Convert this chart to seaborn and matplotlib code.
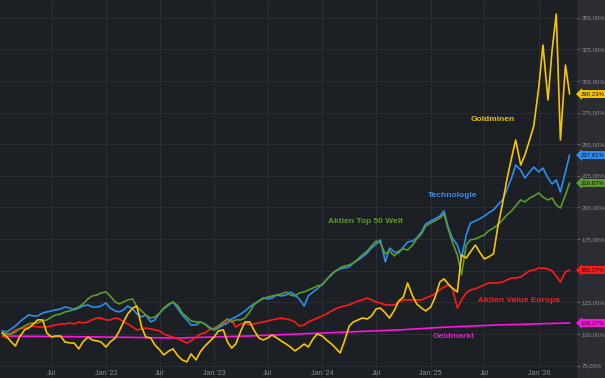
import pandas as pd
import seaborn as sns
import matplotlib.pyplot as plt

start = '2021-01-15'

goldminen = [
    100.8, 97.6, 93.7, 90.5, 97.6, 103.2, 104.7, 107.9, 111.1, 111.1,
    100.8, 97.6, 98.4, 98.4, 93.7, 92.9, 92.9, 88.2, 93.7, 97.6,
    95.3, 94.5, 93.7, 89.7, 93.7, 96.8, 102.4, 109.5, 115.8, 120.5,
    122.1, 105.5, 97.6, 96.8, 91.3, 87.4, 83.4, 86.6, 88.2, 82.6,
    79.5, 77.9, 84.2, 79.5, 85.8, 90.5, 93.7, 97.6, 102.4, 103.2,
    93.7, 88.9, 92.1, 102.4, 109.5, 109.5, 103.2, 96.8, 95.3, 96.8,
    99.2, 96.8, 94.5, 92.1, 89.7, 86.6, 88.9, 92.1, 89.7, 96.1,
    100.0, 98.4, 95.3, 92.1, 88.9, 85.0, 93.7, 106.3, 109.5, 111.1,
    112.6, 111.9, 114.2, 119.8, 120.5, 116.6, 112.6, 119.0, 126.1, 129.2,
    140.3, 130.0, 123.7, 120.5, 118.2, 121.3, 128.4, 141.1, 143.5, 139.5,
    136.3, 133.2, 162.4, 160.0, 164.8, 170.3, 164.8, 159.3, 160.8, 163.2,
    183.7, 203.5, 221.7, 239.0, 253.3, 233.5, 241.4, 253.3, 264.3, 295.1,
    328.3, 284.9, 324.4, 352.8, 253.3, 312.5, 289.6]

technologie = [
    102.4, 101.6, 104.0, 106.3, 109.5, 112.6, 115.0, 114.2, 114.2, 116.6,
    117.4, 118.2, 119.0, 119.8, 121.3, 120.5, 119.0, 120.5, 122.1, 122.9,
    121.3, 121.3, 122.1, 124.5, 120.5, 118.2, 117.4, 119.0, 122.1, 119.8,
    115.8, 113.4, 115.0, 109.5, 111.1, 116.6, 119.8, 122.9, 125.3, 119.8,
    115.0, 111.1, 107.1, 107.1, 109.5, 107.9, 105.5, 103.2, 104.7, 107.1,
    108.7, 111.9, 113.4, 115.8, 118.2, 121.3, 123.7, 126.1, 128.4, 127.7,
    128.4, 130.8, 130.0, 130.8, 133.2, 130.8, 127.7, 122.1, 130.0, 133.2,
    135.6, 139.5, 142.7, 146.6, 149.8, 151.4, 152.1, 152.9, 156.1, 158.5,
    160.8, 164.0, 167.9, 171.1, 174.3, 156.9, 167.9, 164.8, 164.0, 168.7,
    172.7, 173.5, 175.8, 180.6, 186.9, 189.3, 190.9, 193.2, 197.2, 184.5,
    175.8, 170.3, 160.0, 178.2, 187.7, 189.3, 190.9, 193.2, 195.6, 198.0,
    201.9, 205.9, 213.8, 223.2, 233.5, 229.6, 223.2, 228.0, 231.9, 228.0,
    231.1, 223.2, 218.5, 221.7, 212.2, 228.0, 241.4]

top50_welt = [
    100.8, 100.0, 100.0, 101.6, 104.0, 106.3, 107.9, 108.7, 108.7, 110.3,
    111.1, 113.4, 115.0, 115.8, 117.4, 118.2, 119.8, 121.3, 123.7, 127.7,
    130.0, 130.8, 132.4, 133.2, 130.0, 125.3, 123.7, 125.3, 126.9, 127.7,
    121.3, 118.2, 115.0, 112.6, 113.4, 116.6, 120.5, 123.7, 125.3, 122.1,
    116.6, 113.4, 110.3, 109.5, 109.5, 107.9, 104.7, 103.2, 106.3, 109.5,
    111.9, 109.5, 111.1, 111.1, 112.6, 117.4, 122.9, 126.1, 127.7, 129.2,
    130.0, 130.8, 131.6, 133.2, 130.8, 130.0, 132.4, 133.2, 134.8, 136.3,
    137.9, 138.7, 142.7, 147.4, 149.8, 152.1, 153.7, 154.5, 156.1, 159.3,
    162.4, 165.6, 169.5, 173.5, 171.9, 163.2, 165.6, 161.6, 165.6, 167.2,
    166.4, 170.3, 175.1, 179.0, 185.3, 187.7, 189.3, 191.6, 194.8, 183.0,
    172.7, 162.4, 146.6, 170.3, 174.3, 175.1, 176.6, 178.2, 181.4, 183.7,
    186.1, 190.1, 194.0, 197.2, 201.1, 205.9, 204.3, 207.4, 209.0, 211.4,
    208.2, 205.9, 207.4, 201.9, 199.5, 209.8, 219.3]

value_europa = [
    98.4, 96.8, 100.8, 103.2, 104.0, 104.7, 105.5, 106.3, 105.5, 105.5,
    105.5, 106.3, 107.1, 107.9, 107.9, 108.7, 107.9, 109.5, 108.7, 109.5,
    111.1, 112.6, 112.6, 111.1, 111.1, 112.6, 111.9, 109.5, 107.9, 105.5,
    103.2, 104.0, 104.7, 104.0, 103.2, 102.4, 100.0, 98.4, 97.6, 96.1,
    94.5, 92.9, 94.5, 97.6, 100.0, 100.8, 103.2, 104.7, 106.3, 107.9,
    111.1, 111.1, 105.5, 107.9, 108.7, 107.1, 107.9, 108.7, 109.5, 110.3,
    111.1, 111.9, 112.6, 111.9, 111.1, 109.5, 106.3, 107.1, 109.5, 111.1,
    112.6, 114.2, 115.8, 118.2, 119.8, 121.3, 122.1, 122.9, 124.5, 126.1,
    126.9, 128.4, 126.9, 125.3, 124.5, 122.9, 122.9, 122.9, 125.3, 126.9,
    126.9, 126.9, 126.9, 126.9, 128.4, 130.0, 131.6, 134.8, 137.1, 138.7,
    136.3, 120.5, 126.9, 132.4, 134.8, 135.6, 137.1, 138.7, 140.3, 140.3,
    140.3, 141.1, 142.7, 144.2, 144.2, 145.0, 147.4, 149.8, 150.6, 152.1,
    152.1, 151.4, 149.8, 145.8, 141.1, 149.0, 150.6]

geld_daten = ['2021-01-15', '2021-12-15', '2022-09-01', '2023-05-01', '2023-10-15',
              '2024-04-01', '2024-09-15', '2025-03-01', '2025-08-15', '2026-04-15']
geldmarkt = [98.4, 97.6, 96.8, 98.4, 100.0, 101.6, 103.2, 105.5, 107.1, 108.7]

serien = ['Geldmarkt', 'Aktien Value Europa', 'Technologie', 'Aktien Top 50 Welt', 'Goldminen']
farben = ['#ff14e0', '#ff1a1a', '#2b8ff0', '#5c9a2c', '#f7c600']
text_farben = ['#e21ccf', '#ee2222', '#3a90e8', '#5c9a2c', '#eabd08']
end_labels = ['109,27%', '160,27%', '237,81%', '216,87%', '290,23%']

y_ticks = [75, 100, 125, 150, 175, 200, 225, 250, 275, 300, 325, 350]
x_ticks = ['2021-07-01', '2022-01-01', '2022-07-01', '2023-01-01', '2023-07-01',
           '2024-01-01', '2024-07-01', '2025-01-01', '2025-07-01', '2026-01-01']
x_labels = ['Jul', "Jan '22", 'Jul', "Jan '23", 'Jul', "Jan '24", 'Jul', "Jan '25", 'Jul', "Jan '26"]

# Long-Format fuer seaborn
datum = pd.date_range(start, periods=len(goldminen), freq='SMS')
teile = []
for name, werte in [('Goldminen', goldminen), ('Technologie', technologie),
                    ('Aktien Top 50 Welt', top50_welt), ('Aktien Value Europa', value_europa)]:
    teile.append(pd.DataFrame({'Datum': datum, 'Wert': werte, 'Serie': name}))
teile.append(pd.DataFrame({'Datum': pd.to_datetime(geld_daten), 'Wert': geldmarkt, 'Serie': 'Geldmarkt'}))
df = pd.concat(teile, ignore_index=True)

sns.set_theme(style='dark')
plt.rcParams['font.family'] = ['Liberation Sans', 'DejaVu Sans']

fig = plt.figure(figsize=(6.05, 3.78), dpi=100, facecolor='#2b2d32')
ax = fig.add_axes([0, 0, 577 / 605, 1])
ax.set_facecolor('#1c1f24')

sns.lineplot(data=df, x='Datum', y='Wert', hue='Serie', hue_order=serien,
             palette=dict(zip(serien, farben)), linewidth=1.2, legend=False, ax=ax)

ax.set_xlim(pd.Timestamp('2021-01-08'), pd.Timestamp('2026-05-10'))
ax.set_ylim(65.2, 363.9)
ax.set_xlabel('')
ax.set_ylabel('')
for s in ax.spines.values():
    s.set_visible(False)

ax.set_xticks(pd.to_datetime(x_ticks))
ax.set_xticklabels(x_labels)
ax.tick_params(axis='x', direction='in', pad=-6, length=0, labelsize=5, labelcolor='#8b8e94')

ax.yaxis.tick_right()
ax.set_yticks(y_ticks)
ax.set_yticklabels([f'{v},00%' for v in y_ticks])
ax.tick_params(axis='y', right=True, length=2, width=0.6, color='#6c6f75', pad=1.5,
               labelsize=4.3, labelcolor='#8b8e94')
ax.grid(True, color='#2a2d33', linewidth=0.8)

# Serienbeschriftung im Chart
ax.text(0.854, 0.683, 'Goldminen', color=text_farben[4], transform=ax.transAxes,
        fontsize=6, fontweight='bold', ha='center', va='center')
ax.text(0.785, 0.484, 'Technologie', color=text_farben[2], transform=ax.transAxes,
        fontsize=6, fontweight='bold', ha='center', va='center')
ax.text(0.633, 0.413, 'Aktien Top 50 Welt', color=text_farben[3], transform=ax.transAxes,
        fontsize=6, fontweight='bold', ha='center', va='center')
ax.text(0.899, 0.204, 'Aktien Value Europa', color=text_farben[1], transform=ax.transAxes,
        fontsize=6, fontweight='bold', ha='center', va='center')
ax.text(0.787, 0.111, 'Geldmarkt', color=text_farben[0], transform=ax.transAxes,
        fontsize=6, fontweight='bold', ha='center', va='center')

# Endwert-Marken am rechten Rand
letzte = [geldmarkt[-1], value_europa[-1], technologie[-1], top50_welt[-1], goldminen[-1]]
for wert, farbe, txt in zip(letzte, farben, end_labels):
    ax.text(1.006, wert, txt, transform=ax.get_yaxis_transform(), ha='left', va='center',
            fontsize=4.3, color='#111111', clip_on=False, zorder=5,
            bbox=dict(boxstyle='larrow,pad=0.25', fc=farbe, ec='none'))

plt.savefig('out.png', dpi=100, facecolor=fig.get_facecolor())
